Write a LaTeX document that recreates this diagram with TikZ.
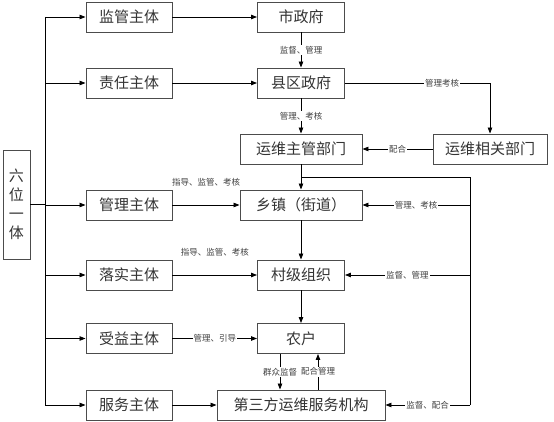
\documentclass[tikz,border=0pt]{standalone}
\usepackage{fontspec}
\setmainfont{Noto Sans CJK SC}
\usetikzlibrary{arrows.meta}
\begin{document}
\begin{tikzpicture}[x=1pt, y=-1pt, line width=0.8pt,
    box/.style={draw=black!70, line width=0.9pt, text=black!80, minimum height=30pt,
                inner sep=0pt, font=\fontsize{15}{18}\selectfont},
    lab/.style={font=\fontsize{8.5}{10}\selectfont, text=black!75, fill=white, inner sep=1pt},
    arr/.style={-{Triangle[length=6pt,width=4.5pt]}}]

  \useasboundingbox (0,0) rectangle (554,422);

  \node[box, minimum width=27pt, minimum height=109pt, align=center,
        font=\fontsize{15}{19}\selectfont] (lw) at (16.5,204.5) {六\\位\\一\\体};

  % left spine
  \coordinate (spT) at (45,17);
  \coordinate (spB) at (45,405);
  \draw[line width=1.4pt] (lw.east) -- (lw.east -| spT);
  \draw (spT) -- (spB);

  \foreach \n/\y/\txt in {jg/17/监管主体, zr/83/责任主体, gl/205/管理主体,
                          ls/275/落实主体, sy/338.5/受益主体, fw/405/服务主体}
  {
    \node[box, minimum width=86pt] (\n) at (129,\y) {\txt};
    \draw[arr] (spT |- \n.west) -- (\n.west);
  }

  % middle column
  \node[box, minimum width=87pt]  (szf) at (301,17)    {市政府};
  \node[box, minimum width=87pt]  (xq)  at (301,83)    {县区政府};
  \node[box, minimum width=122pt] (zg)  at (301,149)   {运维主管部门};
  \node[box, minimum width=114pt] (xg)  at (490,149)   {运维相关部门};
  \node[box, minimum width=122pt] (xz)  at (301,205)   {乡镇（街道）};
  \node[box, minimum width=87pt]  (cj)  at (301,275)   {村级组织};
  \node[box, minimum width=87pt]  (nh)  at (301,338.5) {农户};
  \node[box, minimum width=168pt] (ds)  at (301,405)   {第三方运维服务机构};

  \draw[arr] (jg.east) -- (szf.west);
  \draw[arr] (zr.east) -- (xq.west);
  \draw[arr] (gl.east) -- node[lab, above=17pt] {指导、监管、考核} (xz.west);
  \draw[arr] (ls.east) -- node[lab, above=17pt] {指导、监管、考核} (cj.west);
  \draw[arr] (sy.east) -- node[lab] {管理、引导} (nh.west);
  \draw[arr] (fw.east) -- (ds.west);

  \draw[arr] (szf.south) -- node[lab] {监督、管理} (xq.north);
  \draw[arr] (xq.south) -- node[lab] {管理、考核} (zg.north);
  \draw[arr] (xq.east) -- node[lab, pos=0.67] {管理考核} (xq.east -| xg.north) -- (xg.north);
  \draw[arr] (xg.west) -- node[lab] {配合} (zg.east);
  \draw[arr] (zg.south) -- (xz.north);
  \draw[arr] (xz.south) -- (cj.north);
  \draw[arr] (cj.south) -- (nh.north);
  \draw[arr] ([xshift=-21pt]nh.south) -- node[lab] {群众监督} ([xshift=-21pt]ds.north);
  \draw[arr] ([xshift=17pt]ds.north) -- node[lab] {配合管理} ([xshift=17pt]nh.south);

  % right spine
  \coordinate (rT) at (470,177);
  \coordinate (rB) at (470,405);
  \draw (zg.south |- rT) -- (rT) -- (rB);
  \draw[arr] (rT |- xz.east) -- node[lab] {管理、考核} (xz.east);
  \draw[arr] (rT |- cj.east) -- node[lab] {监督、管理} (cj.east);
  \draw[arr] (rB) -- node[lab] {监督、配合} (ds.east);
\end{tikzpicture}
\end{document}
